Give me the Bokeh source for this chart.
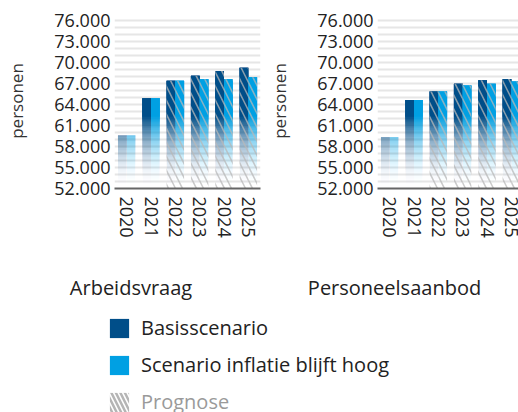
import numpy as np
from bokeh.plotting import figure
from bokeh.models import (ColumnDataSource, Range1d, FixedTicker, SingleIntervalTicker,
                          Legend, LegendItem)
from bokeh.layouts import row, column
from bokeh.core.properties import value
from bokeh.embed import file_html
from bokeh.resources import INLINE

# ---------------- data ----------------
years = ["2020", "2021", "2022", "2023", "2024", "2025"]
prognose = [False, False, True, True, True, True]

vraag_basis = [59600, 64900, 67400, 68100, 68800, 69250]
vraag_inflatie = [59600, 64900, 67400, 67600, 67600, 67900]

aanbod_basis = [59350, 64650, 65850, 66950, 67450, 67650]
aanbod_inflatie = [59350, 64650, 65850, 66700, 66950, 67300]

y_ticks = [52000, 55000, 58000, 61000, 64000, 67000, 70000, 73000, 76000]
y_tick_labels = ["52.000", "55.000", "58.000", "61.000", "64.000",
                 "67.000", "70.000", "73.000", "76.000"]

panel_titles = ["Arbeidsvraag", "Personeelsaanbod"]
series_names = ["Basisscenario", "Scenario inflatie blijft hoog"]
prognose_label = "Prognose"
y_label = "personen"

# ---------------- style ----------------
DARK = "#004e89"
LIGHT = "#00a0e3"
TEXT = "#222222"
FONT = "Open Sans"
Y0, Y1 = 52000, 77000
FADE_TOP = 62500
N_LAYERS = 40
BAR_W = 0.36
OFF = 0.18


def gradient_source(tops, offset):
    """Stack of alpha layers giving a vertical white->colour fade."""
    xs, bottoms, tps, alphas = [], [], [], []
    prev_a = 0.0
    for k in range(1, N_LAYERS + 1):
        level = Y0 + (FADE_TOP - Y0) * (k - 1) / N_LAYERS
        a_k = (k / N_LAYERS) ** 2
        alpha = 1.0 - (1.0 - a_k) / (1.0 - prev_a) if prev_a < 1 else 1.0
        prev_a = a_k
        for i, t in enumerate(tops):
            if t > level:
                xs.append(i + offset)
                bottoms.append(level)
                tps.append(t)
                alphas.append(alpha)
    return ColumnDataSource(dict(x=xs, bottom=bottoms, top=tps, alpha=alphas))


def hatch_source(tops, offset):
    xs, tps = [], []
    for i, t in enumerate(tops):
        if prognose[i]:
            xs.append(i + offset)
            tps.append(t)
    return ColumnDataSource(dict(x=xs, top=tps))


def make_panel(basis, inflatie, width, x_end, border_left, border_right):
    p = figure(width=width, height=250,
               x_range=Range1d(-0.5, x_end), y_range=Range1d(Y0, Y1),
               output_backend="svg", toolbar_location=None,
               min_border_left=border_left, min_border_right=border_right,
               min_border_top=13, min_border_bottom=62)
    p.outline_line_color = None
    p.xgrid.visible = False
    p.ygrid.ticker = SingleIntervalTicker(interval=1000, num_minor_ticks=0)
    p.ygrid.grid_line_color = "#e6e6e6"
    p.ygrid.grid_line_width = 2

    for tops, off, col in ((basis, -OFF, DARK), (inflatie, OFF, LIGHT)):
        src = gradient_source(tops, off)
        p.vbar(x="x", bottom="bottom", top="top", width=BAR_W, source=src,
               fill_color=col, fill_alpha="alpha", line_color=None)
    for tops, off in ((basis, -OFF), (inflatie, OFF)):
        hs = hatch_source(tops, off)
        p.vbar(x="x", bottom=Y0, top="top", width=BAR_W, source=hs,
               fill_alpha=0, line_color=None,
               hatch_pattern="\\", hatch_color="#b8b8b8", hatch_alpha=0.75,
               hatch_scale=14, hatch_weight=1.5)

    ya = p.yaxis[0]
    ya.ticker = FixedTicker(ticks=y_ticks)
    ya.major_label_overrides = {t: l for t, l in zip(y_ticks, y_tick_labels)}
    ya.axis_line_color = None
    ya.major_tick_line_color = None
    ya.minor_tick_line_color = None
    ya.major_tick_out = 0
    ya.major_label_standoff = 4
    ya.major_label_text_font = FONT
    ya.major_label_text_font_size = "18px"
    ya.major_label_text_color = TEXT
    ya.axis_label = y_label
    ya.axis_label_text_font = FONT
    ya.axis_label_text_font_size = "17px"
    ya.axis_label_text_font_style = "normal"
    ya.axis_label_text_color = "#333333"
    ya.axis_label_standoff = 23

    xa = p.xaxis[0]
    xa.ticker = FixedTicker(ticks=list(range(len(years))))
    xa.major_label_overrides = {i: y for i, y in enumerate(years)}
    xa.major_label_orientation = "vertical"
    xa.axis_line_color = "#666666"
    xa.axis_line_width = 2
    xa.major_tick_line_color = None
    xa.minor_tick_line_color = None
    xa.major_tick_out = 0
    xa.major_label_standoff = 8
    xa.major_label_text_font = FONT
    xa.major_label_text_font_size = "18px"
    xa.major_label_text_color = TEXT
    return p


unit_px = 146 / 6.0
p1 = make_panel(vraag_basis, vraag_inflatie, 262, 5.5, 114, 2)
p2 = make_panel(aanbod_basis, aanbod_inflatie, 256, -0.5 + 141 / unit_px, 115, 0)

# ---------------- titles + legend ----------------
BH = 162
pb = figure(width=518, height=BH, x_range=Range1d(0, 518), y_range=Range1d(BH, 0),
            output_backend="svg", toolbar_location=None, min_border=0,
            x_axis_type=None, y_axis_type=None)
pb.outline_line_color = None
pb.grid.visible = False

pb.text(x=[130.5, 394], y=[37, 37], text=panel_titles,
        text_align="center", text_baseline="middle",
        text_font=value(FONT), text_font_size="20px", text_color=TEXT)

# zero-height proxies that only feed the legend swatches
proxy = ColumnDataSource(dict(x=[0], top=[0]))
r_basis = pb.vbar(x="x", top="top", bottom=0, width=0, source=proxy,
                  fill_color=DARK, line_color=None)
r_infl = pb.vbar(x="x", top="top", bottom=0, width=0, source=proxy,
                 fill_color=LIGHT, line_color=None)
r_prog = pb.vbar(x="x", top="top", bottom=0, width=0, source=proxy,
                 fill_alpha=0, line_color=None,
                 hatch_pattern="\\", hatch_color="#b5b5b5", hatch_alpha=1.0,
                 hatch_scale=9, hatch_weight=2.5)


def style_legend(lg, color):
    lg.glyph_width = 24
    lg.glyph_height = 24
    lg.label_height = 24
    lg.spacing = 10
    lg.label_standoff = 10
    lg.padding = 0
    lg.margin = 0
    lg.border_line_color = None
    lg.background_fill_alpha = 0
    lg.label_text_font = FONT
    lg.label_text_font_size = "20px"
    lg.label_text_color = color
    lg.label_text_baseline = "middle"


leg1 = Legend(items=[LegendItem(label=series_names[0], renderers=[r_basis]),
                     LegendItem(label=series_names[1], renderers=[r_infl])],
              location=(107, 34))
style_legend(leg1, TEXT)
leg2 = Legend(items=[LegendItem(label=prognose_label, renderers=[r_prog])],
              location=(107, -3))
style_legend(leg2, "#9a9a9a")
pb.add_layout(leg1, "center")
pb.add_layout(leg2, "center")

layout = column(row(p1, p2), pb)
open("out.html", "w").write(file_html(layout, INLINE))
